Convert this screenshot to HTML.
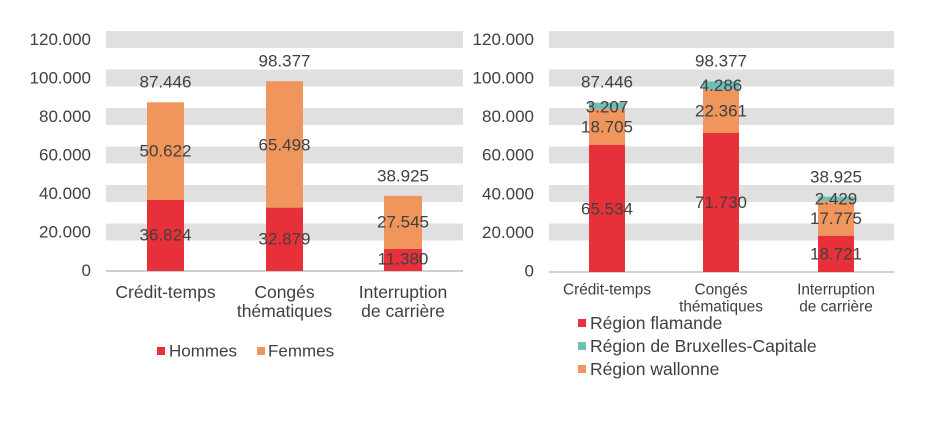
<!DOCTYPE html>
<html><head><meta charset="utf-8"><style>
html,body{margin:0;padding:0;background:#fff;}
svg{display:block;}
text{font-family:"Liberation Sans",Arial,sans-serif;fill:#404040;}
</style></head><body>
<svg width="945" height="428" viewBox="0 0 945 428" xmlns="http://www.w3.org/2000/svg">
<!-- LEFT CHART -->
<g fill="#e0e0e0">
<rect x="106" y="31" width="357" height="17"/>
<rect x="106" y="69.5" width="357" height="17"/>
<rect x="106" y="108" width="357" height="17"/>
<rect x="106" y="146.5" width="357" height="17"/>
<rect x="106" y="185" width="357" height="17"/>
<rect x="106" y="223.5" width="357" height="17"/>
</g>
<line x1="106" y1="271" x2="463" y2="271" stroke="#bfbfbf" stroke-width="1.5"/>
<g font-size="17" text-anchor="end" dominant-baseline="central">
<text x="91" y="39.5">120.000</text>
<text x="91" y="78">100.000</text>
<text x="91" y="116.5">80.000</text>
<text x="91" y="155">60.000</text>
<text x="91" y="193.5">40.000</text>
<text x="91" y="232">20.000</text>
<text x="91" y="270.5">0</text>
</g>
<rect x="147" y="200" width="37" height="71" fill="#e8303a"/>
<rect x="147" y="102.3" width="37" height="97.7" fill="#f0955c"/>
<rect x="266" y="207.6" width="37" height="63.4" fill="#e8303a"/>
<rect x="266" y="81.2" width="37" height="126.4" fill="#f0955c"/>
<rect x="384" y="249" width="38" height="22" fill="#e8303a"/>
<rect x="384" y="195.9" width="38" height="53.1" fill="#f0955c"/>
<g font-size="17" text-anchor="middle" dominant-baseline="central">
<text x="165.5" y="82">87.446</text>
<text x="165.5" y="151">50.622</text>
<text x="165.5" y="235">36.824</text>
<text x="284.5" y="61">98.377</text>
<text x="284.5" y="145">65.498</text>
<text x="284.5" y="239">32.879</text>
<text x="403" y="176">38.925</text>
<text x="403" y="222">27.545</text>
<text x="403" y="259">11.380</text>
</g>
<g font-size="17.5" text-anchor="middle" dominant-baseline="central">
<text x="165.5" y="292">Crédit-temps</text>
<text x="284.5" y="292">Congés</text>
<text x="284.5" y="311">thématiques</text>
<text x="403" y="292">Interruption</text>
<text x="403" y="311">de carrière</text>
</g>
<rect x="157" y="347" width="8" height="8" fill="#e8303a"/>
<rect x="257" y="347" width="8" height="8" fill="#f0955c"/>
<g font-size="17" dominant-baseline="central">
<text x="169" y="351">Hommes</text>
<text x="268" y="351">Femmes</text>
</g>

<!-- RIGHT CHART -->
<g fill="#e0e0e0">
<rect x="549" y="31" width="345" height="17"/>
<rect x="549" y="69.5" width="345" height="17"/>
<rect x="549" y="108" width="345" height="17"/>
<rect x="549" y="146.5" width="345" height="17"/>
<rect x="549" y="185" width="345" height="17"/>
<rect x="549" y="223.5" width="345" height="17"/>
</g>
<line x1="549" y1="272" x2="894" y2="272" stroke="#bfbfbf" stroke-width="1.5"/>
<g font-size="17" text-anchor="end" dominant-baseline="central">
<text x="534" y="39.5">120.000</text>
<text x="534" y="78">100.000</text>
<text x="534" y="116.5">80.000</text>
<text x="534" y="155">60.000</text>
<text x="534" y="194">40.000</text>
<text x="534" y="232.5">20.000</text>
<text x="534" y="271">0</text>
</g>
<rect x="589" y="145" width="36" height="127" fill="#e8303a"/>
<rect x="589" y="108.8" width="36" height="36.2" fill="#f0955c"/>
<rect x="589" y="102.6" width="36" height="6.2" fill="#6fbfb8"/>
<rect x="703" y="133" width="36" height="139" fill="#e8303a"/>
<rect x="703" y="89.7" width="36" height="43.3" fill="#f0955c"/>
<rect x="703" y="81.4" width="36" height="8.3" fill="#6fbfb8"/>
<rect x="818" y="235.7" width="36" height="36.3" fill="#e8303a"/>
<rect x="818" y="201.3" width="36" height="34.4" fill="#f0955c"/>
<rect x="818" y="196.6" width="36" height="4.7" fill="#6fbfb8"/>
<g font-size="17" text-anchor="middle" dominant-baseline="central">
<text x="607" y="82">87.446</text>
<text x="607" y="107">3.207</text>
<text x="607" y="127">18.705</text>
<text x="607" y="209">65.534</text>
<text x="721" y="61">98.377</text>
<text x="721" y="85.5">4.286</text>
<text x="721" y="111">22.361</text>
<text x="721" y="202.5">71.730</text>
<text x="836" y="177">38.925</text>
<text x="836" y="199">2.429</text>
<text x="836" y="218.5">17.775</text>
<text x="836" y="254">18.721</text>
</g>
<g font-size="15.4" text-anchor="middle" dominant-baseline="central">
<text x="607" y="290">Crédit-temps</text>
<text x="721" y="290">Congés</text>
<text x="721" y="307">thématiques</text>
<text x="836" y="290">Interruption</text>
<text x="836" y="307">de carrière</text>
</g>
<rect x="578" y="319" width="8" height="8" fill="#e8303a"/>
<rect x="578" y="342" width="8" height="8" fill="#6fbfb8"/>
<rect x="578" y="365" width="8" height="8" fill="#f0955c"/>
<g font-size="17.5" dominant-baseline="central">
<text x="590" y="323">Région flamande</text>
<text x="590" y="346">Région de Bruxelles-Capitale</text>
<text x="590" y="369">Région wallonne</text>
</g>
</svg>
</body></html>
